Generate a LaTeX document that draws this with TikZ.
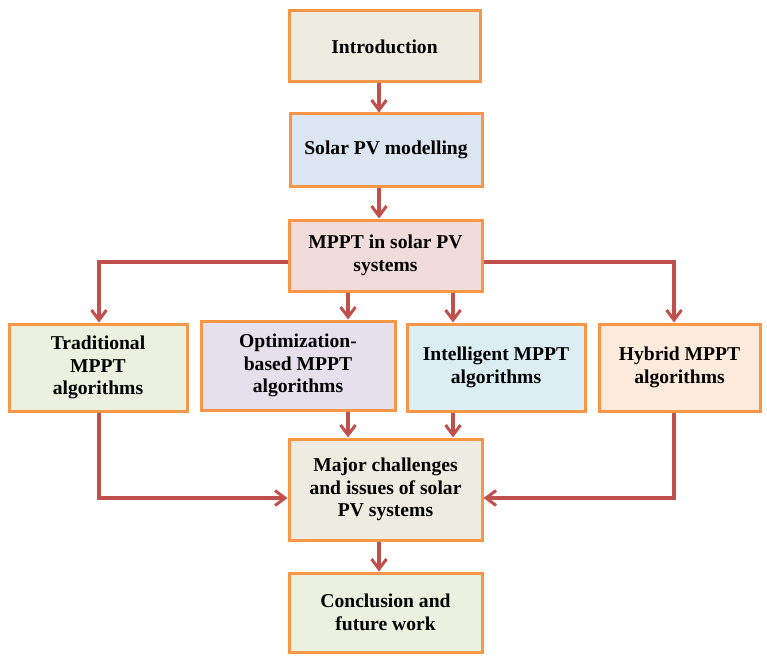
\documentclass[tikz,border=0pt]{standalone}
\usepackage{fontspec}
\setmainfont{Liberation Serif}
\usetikzlibrary{arrows.meta}
\definecolor{boxline}{HTML}{F79646}
\definecolor{arrowred}{HTML}{C0504D}
\definecolor{tanfill}{HTML}{EEECE1}
\definecolor{bluefill}{HTML}{DCE6F2}
\definecolor{pinkfill}{HTML}{F2DCDB}
\definecolor{greenfill}{HTML}{EBF1DE}
\definecolor{lilacfill}{HTML}{E5E0EC}
\definecolor{cyanfill}{HTML}{DBEEF4}
\definecolor{peachfill}{HTML}{FDEADA}
\tikzset{
  stagebox/.style={draw=boxline, line width=3pt, rectangle, align=center,
    inner sep=2pt, font=\fontsize{19.6}{22.5}\selectfont\bfseries},
  flow/.style={draw=arrowred, line width=3.4pt,
    -{Straight Barb[length=10pt,width=15pt,line width=3pt]}}
}
\begin{document}
\begin{tikzpicture}[x=1pt,y=-1pt]
\useasboundingbox (0,0) rectangle (767,655);

% main column
\node[stagebox, fill=tanfill, minimum width=191pt, minimum height=71pt] (intro) at (384.5,46.5) {Introduction};
\node[stagebox, fill=bluefill, minimum width=192pt, minimum height=72pt] (pvmodel) at (386,150) {Solar PV modelling};
\node[stagebox, fill=pinkfill, minimum width=193pt, minimum height=71pt] (mppt) at (385.5,255.5) {MPPT in solar PV\\systems};

% algorithm families
\node[stagebox, fill=greenfill, minimum width=178pt, minimum height=87pt] (trad) at (98,367.5) {Traditional\\MPPT\\algorithms};
\node[stagebox, fill=lilacfill, minimum width=194pt, minimum height=89pt] (optim) at (298,365.5) {Optimization-\\based MPPT\\algorithms};
\node[stagebox, fill=cyanfill, minimum width=178pt, minimum height=87pt] (intel) at (496,367.5) {Intelligent MPPT\\algorithms};
\node[stagebox, fill=peachfill, minimum width=161pt, minimum height=87pt] (hybrid) at (679.5,367.5) {Hybrid MPPT\\algorithms};

% closing stages
\node[stagebox, fill=tanfill, minimum width=193pt, minimum height=101pt] (issues) at (385.5,489.5) {Major challenges\\and issues of solar\\PV systems};
\node[stagebox, fill=greenfill, minimum width=193pt, minimum height=79pt] (concl) at (385.5,612.5) {Conclusion and\\future work};

% helper points for the routed connectors
\coordinate (lcol) at (99,0);
\coordinate (rcol) at (674,0);
\coordinate (colA) at (348,0);
\coordinate (colB) at (453,0);
\coordinate (colM) at (379,0);
\coordinate (split) at (0,262);
\coordinate (merge) at (0,498);

% connectors
\draw[flow] (colM |- intro.south) -- (colM |- pvmodel.north);
\draw[flow] (colM |- pvmodel.south) -- (colM |- mppt.north);
\draw[flow] (mppt.west |- split) -- (lcol |- split) -- (lcol |- trad.north);
\draw[flow] (colA |- mppt.south) -- (colA |- optim.north);
\draw[flow] (colB |- mppt.south) -- (colB |- intel.north);
\draw[flow] (mppt.east |- split) -- (rcol |- split) -- (rcol |- hybrid.north);
\draw[flow] (lcol |- trad.south) -- (lcol |- merge) -- (issues.west |- merge);
\draw[flow] (colA |- optim.south) -- (colA |- issues.north);
\draw[flow] (colB |- intel.south) -- (colB |- issues.north);
\draw[flow] (rcol |- hybrid.south) -- (rcol |- merge) -- (issues.east |- merge);
\draw[flow] (colM |- issues.south) -- (colM |- concl.north);
\end{tikzpicture}
\end{document}
